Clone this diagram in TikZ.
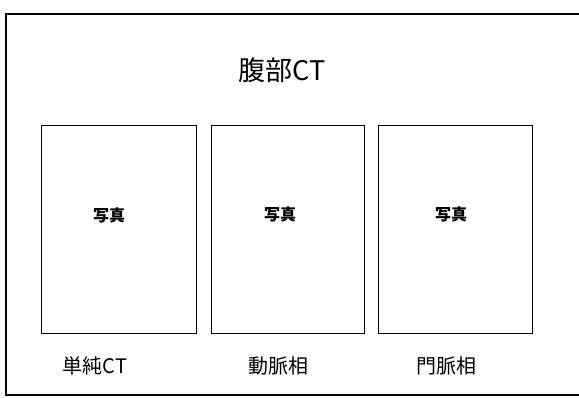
\documentclass[tikz,border=0pt]{standalone}
\usepackage{fontspec}
\setmainfont{Noto Sans CJK JP}
\tikzset{
	photo/.style={draw, line width=1pt, minimum width=155pt, minimum height=208pt, inner sep=0pt},
	caption/.style={font=\fontsize{20}{20}\selectfont},
	phototext/.style={font=\fontsize{16}{16}\selectfont\bfseries}
}

\begin{document}
\begin{tikzpicture}[x=1pt, y=-1pt]
	\useasboundingbox (0,0) rectangle (579,397);
	\clip (0,0) rectangle (579,397);
	\draw[line width=1.4pt] (6,14) rectangle (590,395);
	\node[font=\fontsize{27}{27}\selectfont] (title) at (282,70) {腹部CT};
	\node[photo] (p1) at (118.5,229) {};
	\node[photo, minimum width=153pt] (p2) at (287.5,229) {};
	\node[photo, minimum width=154pt] (p3) at (455,229) {};
	\node[phototext] (t1) at (109,215) {写真};
	\node[phototext] (t2) at (280,214) {写真};
	\node[phototext] (t3) at (451,214) {写真};
	\node[caption] (c1) at (95,366) {単純CT};
	\node[caption] (c2) at (278,366) {動脈相};
	\node[caption] (c3) at (446,366) {門脈相};
\end{tikzpicture}
\end{document}
